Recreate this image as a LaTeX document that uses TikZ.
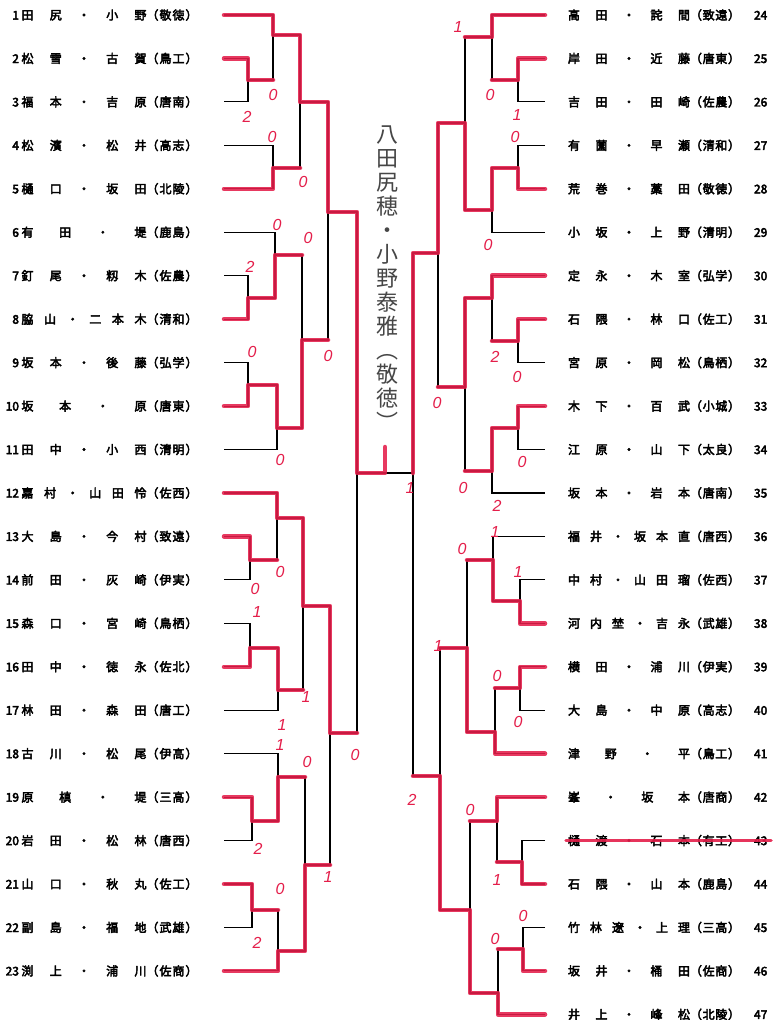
\documentclass[tikz,border=0pt]{standalone}
\usepackage{fontspec}
\usetikzlibrary{positioning}
\newfontfamily\jpfont{Noto Sans CJK JP}
\newfontfamily\jpbold{Noto Sans CJK JP}[FakeBold=3.5]
\newfontfamily\scorefont{Liberation Sans}
\definecolor{mkred}{RGB}{228,30,74}
\definecolor{inkgray}{RGB}{70,70,70}
\makeatletter
\newif\ifsp@lead
\newcommand\spreadtext[1]{\sp@leadtrue\@tfor\sp@c:=#1\do{\ifsp@lead\sp@leadfalse\else\hfill\fi\sp@c}}
\makeatother
\newcommand\leftentry[3]{\makebox[17pt][r]{#1}\hspace{2.5pt}\makebox[125pt][s]{\spreadtext{#2}}\makebox[51pt][s]{\spreadtext{（#3）}}}
\newcommand\rightentry[3]{\makebox[122pt][s]{\spreadtext{#1}}\makebox[50pt][s]{\spreadtext{（#2）}}\hspace{14pt}\makebox[15pt][l]{#3}}
\tikzset{
    entleft/.style={inner sep=0pt, outer sep=0pt, minimum height=43.45pt, font=\jpbold\fontsize{12}{14}\selectfont},
    entright/.style={inner sep=0pt, outer sep=0pt, minimum height=43.45pt, font=\jpbold\fontsize{12}{14}\selectfont},
    brk/.style={draw=black, line width=1.1pt},
    win/.style={draw=mkred, line width=4.5pt, line cap=round, line join=round, draw opacity=0.88},
    strike/.style={draw=mkred, line width=3.5pt, line cap=round, draw opacity=0.9},
    score/.style={text=mkred, font=\scorefont\itshape\fontsize{16}{17}\selectfont, inner sep=0pt},
    handtxt/.style={text=inkgray, font=\jpfont\fontsize{22}{24}\selectfont, align=center, inner sep=0pt}
}
\begin{document}
\begin{tikzpicture}[x=1pt, y=-1pt, node distance=0pt]
    \useasboundingbox[fill=white] (0,0) rectangle (775,1020);
    % left half
    \node[entleft, anchor=west] (L1) at (2,15) {\leftentry{1}{田尻・小野}{敬徳}};
    \node[entleft, below=of L1] (L2) {\leftentry{2}{松雪・古賀}{鳥工}};
    \node[entleft, below=of L2] (L3) {\leftentry{3}{福本・吉原}{唐南}};
    \node[entleft, below=of L3] (L4) {\leftentry{4}{松濱・松井}{高志}};
    \node[entleft, below=of L4] (L5) {\leftentry{5}{樋口・坂田}{北陵}};
    \node[entleft, below=of L5] (L6) {\leftentry{6}{有田・堤}{鹿島}};
    \node[entleft, below=of L6] (L7) {\leftentry{7}{釘尾・籾木}{佐農}};
    \node[entleft, below=of L7] (L8) {\leftentry{8}{脇山・二本木}{清和}};
    \node[entleft, below=of L8] (L9) {\leftentry{9}{坂本・後藤}{弘学}};
    \node[entleft, below=of L9] (L10) {\leftentry{10}{坂本・原}{唐東}};
    \node[entleft, below=of L10] (L11) {\leftentry{11}{田中・小西}{清明}};
    \node[entleft, below=of L11] (L12) {\leftentry{12}{嘉村・山田怜}{佐西}};
    \node[entleft, below=of L12] (L13) {\leftentry{13}{大島・今村}{致遠}};
    \node[entleft, below=of L13] (L14) {\leftentry{14}{前田・灰崎}{伊実}};
    \node[entleft, below=of L14] (L15) {\leftentry{15}{森口・宮崎}{鳥栖}};
    \node[entleft, below=of L15] (L16) {\leftentry{16}{田中・徳永}{佐北}};
    \node[entleft, below=of L16] (L17) {\leftentry{17}{林田・森田}{唐工}};
    \node[entleft, below=of L17] (L18) {\leftentry{18}{古川・松尾}{伊高}};
    \node[entleft, below=of L18] (L19) {\leftentry{19}{原槙・堤}{三高}};
    \node[entleft, below=of L19] (L20) {\leftentry{20}{岩田・松林}{唐西}};
    \node[entleft, below=of L20] (L21) {\leftentry{21}{山口・秋丸}{佐工}};
    \node[entleft, below=of L21] (L22) {\leftentry{22}{副島・福地}{武雄}};
    \node[entleft, below=of L22] (L23) {\leftentry{23}{渕上・浦川}{佐商}};
    % right half
    \node[entright, anchor=west] (R24) at (568,15) {\rightentry{高田・詫間}{致遠}{24}};
    \node[entright, below=of R24] (R25) {\rightentry{岸田・近藤}{唐東}{25}};
    \node[entright, below=of R25] (R26) {\rightentry{吉田・田崎}{佐農}{26}};
    \node[entright, below=of R26] (R27) {\rightentry{有薗・早瀬}{清和}{27}};
    \node[entright, below=of R27] (R28) {\rightentry{荒巻・藁田}{敬徳}{28}};
    \node[entright, below=of R28] (R29) {\rightentry{小坂・上野}{清明}{29}};
    \node[entright, below=of R29] (R30) {\rightentry{定永・木室}{弘学}{30}};
    \node[entright, below=of R30] (R31) {\rightentry{石隈・林口}{佐工}{31}};
    \node[entright, below=of R31] (R32) {\rightentry{宮原・岡松}{鳥栖}{32}};
    \node[entright, below=of R32] (R33) {\rightentry{木下・百武}{小城}{33}};
    \node[entright, below=of R33] (R34) {\rightentry{江原・山下}{太良}{34}};
    \node[entright, below=of R34] (R35) {\rightentry{坂本・岩本}{唐南}{35}};
    \node[entright, below=of R35] (R36) {\rightentry{福井・坂本直}{唐西}{36}};
    \node[entright, below=of R36] (R37) {\rightentry{中村・山田瑠}{佐西}{37}};
    \node[entright, below=of R37] (R38) {\rightentry{河内埜・吉永}{武雄}{38}};
    \node[entright, below=of R38] (R39) {\rightentry{横田・浦川}{伊実}{39}};
    \node[entright, below=of R39] (R40) {\rightentry{大島・中原}{高志}{40}};
    \node[entright, below=of R40] (R41) {\rightentry{津野・平}{鳥工}{41}};
    \node[entright, below=of R41] (R42) {\rightentry{峯・坂本}{唐商}{42}};
    \node[entright, below=of R42] (R43) {\rightentry{樋渡・石本}{有工}{43}};
    \node[entright, below=of R43] (R44) {\rightentry{石隈・山本}{鹿島}{44}};
    \node[entright, below=of R44] (R45) {\rightentry{竹林遼・上理}{三高}{45}};
    \node[entright, below=of R45] (R46) {\rightentry{坂井・桶田}{佐商}{46}};
    \node[entright, below=of R46] (R47) {\rightentry{井上・峰松}{北陵}{47}};
    % champion
    \node[handtxt] (champ) at (387,278) {八\\田\\尻\\穂\\・\\小\\野\\泰\\雅\\︵\\敬\\徳\\︶};
    % match points
    \coordinate (a23) at (248,80);
    \coordinate (a1) at (273,35);
    \coordinate (a45) at (273,168);
    \coordinate (a15) at (300,102);
    \coordinate (a78) at (248,298);
    \coordinate (a68) at (275,255);
    \coordinate (a910) at (248,385);
    \coordinate (a911) at (277,428);
    \coordinate (a611) at (302,340);
    \coordinate (aQ1) at (328,212);
    \coordinate (a1314) at (250,560);
    \coordinate (a1214) at (277,518);
    \coordinate (a1516) at (250,648);
    \coordinate (a1517) at (278,690);
    \coordinate (a1217) at (303,606);
    \coordinate (a1920) at (252,821);
    \coordinate (a1820) at (278,777);
    \coordinate (a2122) at (252,910);
    \coordinate (a2123) at (278,951);
    \coordinate (a1823) at (305,865);
    \coordinate (aQ2) at (330,733);
    \coordinate (aS) at (357,473);
    \coordinate (tk) at (385,447);
    \coordinate (b2526) at (518,80);
    \coordinate (b24) at (492,37);
    \coordinate (b2728) at (518,168);
    \coordinate (b2729) at (492,210);
    \coordinate (b2429) at (465,123);
    \coordinate (b3132) at (518,341);
    \coordinate (b3032) at (492,298);
    \coordinate (b3334) at (518,428);
    \coordinate (b3335) at (492,471);
    \coordinate (b3035) at (465,387);
    \coordinate (bQ1) at (438,253);
    \coordinate (b3738) at (520,601);
    \coordinate (b3638) at (493,560);
    \coordinate (b3940) at (520,688);
    \coordinate (b3941) at (495,732);
    \coordinate (b3641) at (467,648);
    \coordinate (b4344) at (522,862);
    \coordinate (b4244) at (497,821);
    \coordinate (b4546) at (523,949);
    \coordinate (b4547) at (498,993);
    \coordinate (b4247) at (470,910);
    \coordinate (bQ2) at (440,776);
    \coordinate (bS) at (413,473);
    % bracket lines
    \draw[brk] ([xshift=26.5pt]L2.east) -| (a23) |- ([xshift=26.5pt]L3.east);
    \draw[brk] ([xshift=26.5pt]L1.east) -| (a1) |- (a23);
    \draw[brk] ([xshift=26.5pt]L4.east) -| (a45) |- ([xshift=26.5pt]L5.east);
    \draw[brk] (a1) -| (a15) |- (a45);
    \draw[brk] ([xshift=26.5pt]L7.east) -| (a78) |- ([xshift=26.5pt]L8.east);
    \draw[brk] ([xshift=26.5pt]L6.east) -| (a68) |- (a78);
    \draw[brk] ([xshift=26.5pt]L9.east) -| (a910) |- ([xshift=26.5pt]L10.east);
    \draw[brk] (a910) -| (a911) |- ([xshift=26.5pt]L11.east);
    \draw[brk] (a68) -| (a611) |- (a911);
    \draw[brk] (a15) -| (aQ1) |- (a611);
    \draw[brk] ([xshift=26.5pt]L13.east) -| (a1314) |- ([xshift=26.5pt]L14.east);
    \draw[brk] ([xshift=26.5pt]L12.east) -| (a1214) |- (a1314);
    \draw[brk] ([xshift=26.5pt]L15.east) -| (a1516) |- ([xshift=26.5pt]L16.east);
    \draw[brk] (a1516) -| (a1517) |- ([xshift=26.5pt]L17.east);
    \draw[brk] (a1214) -| (a1217) |- (a1517);
    \draw[brk] ([xshift=26.5pt]L19.east) -| (a1920) |- ([xshift=26.5pt]L20.east);
    \draw[brk] ([xshift=26.5pt]L18.east) -| (a1820) |- (a1920);
    \draw[brk] ([xshift=26.5pt]L21.east) -| (a2122) |- ([xshift=26.5pt]L22.east);
    \draw[brk] (a2122) -| (a2123) |- ([xshift=26.5pt]L23.east);
    \draw[brk] (a1820) -| (a1823) |- (a2123);
    \draw[brk] (a1217) -| (aQ2) |- (a1823);
    \draw[brk] (aQ1) -| (aS) |- (aQ2);
    \draw[brk] ([xshift=-23pt]R25.west) -| (b2526) |- ([xshift=-23pt]R26.west);
    \draw[brk] ([xshift=-23pt]R24.west) -| (b24) |- (b2526);
    \draw[brk] ([xshift=-23pt]R27.west) -| (b2728) |- ([xshift=-23pt]R28.west);
    \draw[brk] (b2728) -| (b2729) |- ([xshift=-23pt]R29.west);
    \draw[brk] (b24) -| (b2429) |- (b2729);
    \draw[brk] ([xshift=-23pt]R31.west) -| (b3132) |- ([xshift=-23pt]R32.west);
    \draw[brk] ([xshift=-23pt]R30.west) -| (b3032) |- (b3132);
    \draw[brk] ([xshift=-23pt]R33.west) -| (b3334) |- ([xshift=-23pt]R34.west);
    \draw[brk] (b3334) -| (b3335) |- ([xshift=-23pt]R35.west);
    \draw[brk] (b3032) -| (b3035) |- (b3335);
    \draw[brk] (b2429) -| (bQ1) |- (b3035);
    \draw[brk] ([xshift=-23pt]R37.west) -| (b3738) |- ([xshift=-23pt]R38.west);
    \draw[brk] ([xshift=-23pt]R36.west) -| (b3638) |- (b3738);
    \draw[brk] ([xshift=-23pt]R39.west) -| (b3940) |- ([xshift=-23pt]R40.west);
    \draw[brk] (b3940) -| (b3941) |- ([xshift=-23pt]R41.west);
    \draw[brk] (b3638) -| (b3641) |- (b3941);
    \draw[brk] ([xshift=-23pt]R43.west) -| (b4344) |- ([xshift=-23pt]R44.west);
    \draw[brk] ([xshift=-23pt]R42.west) -| (b4244) |- (b4344);
    \draw[brk] ([xshift=-23pt]R45.west) -| (b4546) |- ([xshift=-23pt]R46.west);
    \draw[brk] (b4546) -| (b4547) |- ([xshift=-23pt]R47.west);
    \draw[brk] (b4244) -| (b4247) |- (b4547);
    \draw[brk] (b3641) -| (bQ2) |- (b4247);
    \draw[brk] (bQ1) -| (bS) |- (bQ2);
    \draw[brk] (aS) -- (bS);
    % winners
    \draw[win] ([xshift=26.5pt]L1.east) -| (a1) -| (a15) -| (aQ1) -| (aS) -| (tk);
    \draw[win] ([xshift=26.5pt]L2.east) -| (a23) -- (a23 -| a1);
    \draw[win] ([xshift=26.5pt]L5.east) -| (a45) -- (a45 -| a15);
    \draw[win] ([xshift=26.5pt]L8.east) -| (a78) -| (a68) -- (a68 -| a611);
    \draw[win] ([xshift=26.5pt]L10.east) -| (a910) -| (a911) -| (a611) -- (a611 -| aQ1);
    \draw[win] ([xshift=26.5pt]L12.east) -| (a1214) -| (a1217) -| (aQ2) -- (aQ2 -| aS);
    \draw[win] ([xshift=26.5pt]L13.east) -| (a1314) -- (a1314 -| a1214);
    \draw[win] ([xshift=26.5pt]L16.east) -| (a1516) -| (a1517) -- (a1517 -| a1217);
    \draw[win] ([xshift=26.5pt]L19.east) -| (a1920) -| (a1820) -- (a1820 -| a1823);
    \draw[win] ([xshift=26.5pt]L21.east) -| (a2122) -- (a2122 -| a2123);
    \draw[win] ([xshift=26.5pt]L23.east) -| (a2123) -| (a1823) -- (a1823 -| aQ2);
    \draw[win] ([xshift=-23pt]R24.west) -| (b24) -- (b24 -| b2429);
    \draw[win] ([xshift=-23pt]R25.west) -| (b2526) -- (b2526 -| b24);
    \draw[win] ([xshift=-23pt]R28.west) -| (b2728) -| (b2729) -| (b2429) -| (bQ1) -| (bS);
    \draw[win] ([xshift=-23pt]R30.west) -| (b3032) -| (b3035) -- (b3035 -| bQ1);
    \draw[win] ([xshift=-23pt]R31.west) -| (b3132) -- (b3132 -| b3032);
    \draw[win] ([xshift=-23pt]R33.west) -| (b3334) -| (b3335) -- (b3335 -| b3035);
    \draw[win] ([xshift=-23pt]R38.west) -| (b3738) -| (b3638) -- (b3638 -| b3641);
    \draw[win] ([xshift=-23pt]R39.west) -| (b3940) -- (b3940 -| b3941);
    \draw[win] ([xshift=-23pt]R41.west) -| (b3941) -| (b3641) -- (b3641 -| bQ2);
    \draw[win] ([xshift=-23pt]R42.west) -| (b4244) -- (b4244 -| b4247);
    \draw[win] ([xshift=-23pt]R44.west) -| (b4344) -- (b4344 -| b4244);
    \draw[win] ([xshift=-23pt]R46.west) -| (b4546) -- (b4546 -| b4547);
    \draw[win] ([xshift=-23pt]R47.west) -| (b4547) -| (b4247) -| (bQ2) -- (bQ2 -| bS);
    \draw[strike] ([xshift=-2pt]R43.west) -- ([xshift=2pt]R43.east);
    % scores
    \node[score] (s1) at (273,95) {0};
    \node[score] (s2) at (247,117) {2};
    \node[score] (s3) at (272,137) {0};
    \node[score] (s4) at (303,182) {0};
    \node[score] (s5) at (277,225) {0};
    \node[score] (s6) at (308,238) {0};
    \node[score] (s7) at (250,267) {2};
    \node[score] (s8) at (252,352) {0};
    \node[score] (s9) at (328,356) {0};
    \node[score] (s10) at (280,460) {0};
    \node[score] (s11) at (280,572) {0};
    \node[score] (s12) at (255,589) {0};
    \node[score] (s13) at (257,612) {1};
    \node[score] (s14) at (306,697) {1};
    \node[score] (s15) at (282,725) {1};
    \node[score] (s16) at (280,745) {1};
    \node[score] (s17) at (307,762) {0};
    \node[score] (s18) at (355,755) {0};
    \node[score] (s19) at (258,849) {2};
    \node[score] (s20) at (328,877) {1};
    \node[score] (s21) at (280,889) {0};
    \node[score] (s22) at (257,943) {2};
    \node[score] (s23) at (458,27) {1};
    \node[score] (s24) at (490,95) {0};
    \node[score] (s25) at (517,115) {1};
    \node[score] (s26) at (515,137) {0};
    \node[score] (s27) at (488,245) {0};
    \node[score] (s28) at (495,357) {2};
    \node[score] (s29) at (517,377) {0};
    \node[score] (s30) at (437,403) {0};
    \node[score] (s31) at (522,462) {0};
    \node[score] (s32) at (463,488) {0};
    \node[score] (s33) at (410,488) {1};
    \node[score] (s34) at (497,506) {2};
    \node[score] (s35) at (495,532) {1};
    \node[score] (s36) at (462,549) {0};
    \node[score] (s37) at (518,572) {1};
    \node[score] (s38) at (438,646) {1};
    \node[score] (s39) at (497,676) {0};
    \node[score] (s40) at (518,722) {0};
    \node[score] (s41) at (412,800) {2};
    \node[score] (s42) at (470,810) {0};
    \node[score] (s43) at (497,880) {1};
    \node[score] (s44) at (523,916) {0};
    \node[score] (s45) at (495,939) {0};
\end{tikzpicture}
\end{document}
